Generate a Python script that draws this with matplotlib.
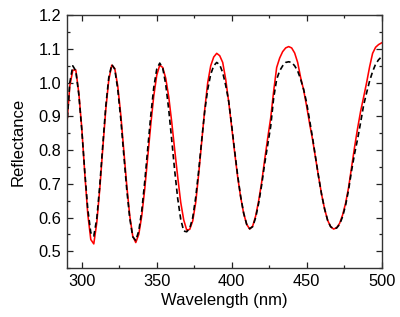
import numpy as np
import matplotlib
matplotlib.use("Agg")
import matplotlib.pyplot as plt
from matplotlib.ticker import MultipleLocator, FormatStrFormatter

plt.rcParams["font.family"] = ["Liberation Sans", "DejaVu Sans"]

# wavelength grid (nm), read every 2 nm
wavelength = list(range(290, 502, 2))

# red solid curve
refl_red = [
    0.875, 0.990, 1.037, 1.038, 0.970, 0.865, 0.730, 0.610, 0.535, 0.522,
    0.585, 0.685, 0.805, 0.920, 1.008, 1.052, 1.042, 0.990, 0.905, 0.800,
    0.695, 0.605, 0.545, 0.526, 0.550, 0.605, 0.685, 0.780, 0.875, 0.960,
    1.022, 1.052, 1.045, 1.013, 0.958, 0.883, 0.800, 0.720, 0.645, 0.593,
    0.563, 0.565, 0.590, 0.645, 0.730, 0.825, 0.920, 1.000, 1.050, 1.076,
    1.087, 1.080, 1.060, 1.010, 0.943, 0.868, 0.792, 0.720, 0.660, 0.612,
    0.580, 0.566, 0.575, 0.605, 0.650, 0.705, 0.772, 0.835, 0.895, 0.975,
    1.045, 1.073, 1.092, 1.103, 1.107, 1.103, 1.088, 1.060, 1.015, 0.978,
    0.930, 0.878, 0.830, 0.775, 0.720, 0.668, 0.625, 0.592, 0.573, 0.566,
    0.570, 0.583, 0.608, 0.643, 0.690, 0.750, 0.810, 0.865, 0.915, 0.957,
    1.000, 1.047, 1.087, 1.105, 1.113, 1.118,
]

# black dashed curve
refl_black = [
    0.870, 1.000, 1.050, 1.035, 0.965, 0.860, 0.735, 0.625, 0.555, 0.545,
    0.597, 0.695, 0.815, 0.930, 1.015, 1.054, 1.040, 0.980, 0.893, 0.787,
    0.683, 0.598, 0.543, 0.532, 0.560, 0.620, 0.707, 0.805, 0.902, 0.985,
    1.040, 1.058, 1.043, 0.995, 0.920, 0.830, 0.738, 0.656, 0.595, 0.560,
    0.558, 0.568, 0.600, 0.660, 0.740, 0.830, 0.915, 0.980, 1.025, 1.050,
    1.060, 1.053, 1.030, 0.992, 0.945, 0.873, 0.797, 0.724, 0.662, 0.613,
    0.580, 0.567, 0.573, 0.600, 0.643, 0.697, 0.760, 0.815, 0.870, 0.955,
    1.010, 1.035, 1.050, 1.060, 1.062, 1.060, 1.050, 1.035, 1.010, 0.980,
    0.940, 0.888, 0.835, 0.777, 0.720, 0.668, 0.625, 0.592, 0.573, 0.567,
    0.569, 0.580, 0.603, 0.637, 0.683, 0.740, 0.790, 0.833, 0.882, 0.933,
    0.970, 1.005, 1.033, 1.055, 1.068, 1.077,
]

fig = plt.figure(figsize=(4.0, 3.17), dpi=100)
ax = fig.add_axes([0.167, 0.154, 0.787, 0.798])

ax.plot(wavelength, refl_red, color="#ff0000", lw=1.15)
ax.plot(wavelength, refl_black, color="black", lw=1.2, dashes=(3.2, 2.0))

ax.set_xlim(290, 500)
ax.set_ylim(0.45, 1.2)
ax.xaxis.set_major_locator(MultipleLocator(50))
ax.xaxis.set_minor_locator(MultipleLocator(25))
ax.yaxis.set_major_locator(MultipleLocator(0.1))
ax.yaxis.set_minor_locator(MultipleLocator(0.05))
ax.yaxis.set_major_formatter(FormatStrFormatter("%.1f"))

ax.tick_params(which="both", direction="in", top=True, right=True,
               labelsize=11.8, width=0.9, colors="#222222", labelcolor="black")
ax.tick_params(which="major", length=4, pad=4)
ax.tick_params(which="minor", length=2.2)
for s in ax.spines.values():
    s.set_linewidth(1.0)
    s.set_color("#333333")

ax.set_xlabel("Wavelength (nm)", fontsize=12, labelpad=3)
ax.set_ylabel("Reflectance", fontsize=12, labelpad=9)

fig.savefig("out.png", dpi=100)
